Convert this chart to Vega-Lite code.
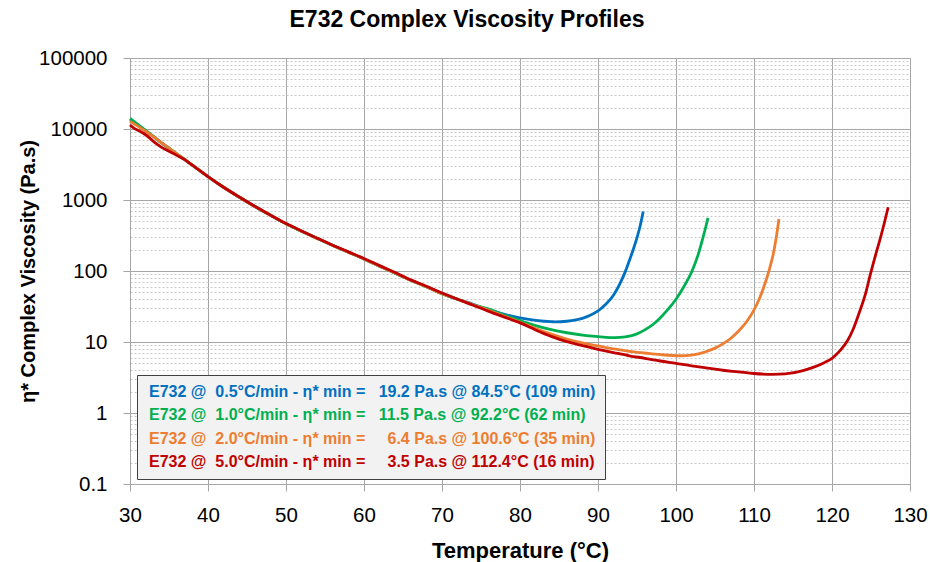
{
  "$schema": "https://vega.github.io/schema/vega-lite/v6.json",
  "width": 780,
  "height": 426,
  "autosize": {"type": "none"},
  "padding": {"left": 130, "top": 58, "right": 20, "bottom": 78},
  "background": "white",
  "config": {"view": {"stroke": null}},
  "title": {"text": "E732 Complex Viscosity Profiles", "font": "Liberation Sans", "fontSize": 23, "fontWeight": "bold", "color": "#000000", "anchor": "middle", "frame": "group", "dx": -53, "dy": 30, "baseline": "alphabetic", "offset": 28},
  "data": {"values": [
    {"s":"0.5","T":30,"v":13500},{"s":"0.5","T":31,"v":11400},{"s":"0.5","T":32,"v":9500},{"s":"0.5","T":33,"v":7850},
    {"s":"0.5","T":34,"v":6450},{"s":"0.5","T":35,"v":5370},{"s":"0.5","T":36,"v":4470},{"s":"0.5","T":37,"v":3720},{"s":"0.5","T":38,"v":3090},{"s":"0.5","T":39,"v":2570},{"s":"0.5","T":40,"v":2140},{"s":"0.5","T":42,"v":1510},{"s":"0.5","T":44,"v":1100},{"s":"0.5","T":46,"v":810},{"s":"0.5","T":48,"v":610},{"s":"0.5","T":50,"v":462},{"s":"0.5","T":52,"v":363},{"s":"0.5","T":54,"v":288},{"s":"0.5","T":56,"v":229},{"s":"0.5","T":58,"v":184},{"s":"0.5","T":60,"v":148},{"s":"0.5","T":62,"v":117},{"s":"0.5","T":64,"v":93},{"s":"0.5","T":66,"v":74},{"s":"0.5","T":68,"v":60},{"s":"0.5","T":70,"v":48},{"s":"0.5","T":72,"v":40},{"s":"0.5","T":74,"v":34},
    {"s":"0.5","T":76,"v":28.5},{"s":"0.5","T":78,"v":24.5},{"s":"0.5","T":80,"v":21.8},{"s":"0.5","T":82,"v":20.2},{"s":"0.5","T":84,"v":19.3},{"s":"0.5","T":84.5,"v":19.2},{"s":"0.5","T":86,"v":19.6},{"s":"0.5","T":88,"v":21.5},{"s":"0.5","T":89,"v":23.8},{"s":"0.5","T":90,"v":27.5},{"s":"0.5","T":91,"v":34},{"s":"0.5","T":92,"v":46},{"s":"0.5","T":92.8,"v":66},{"s":"0.5","T":93.5,"v":98},{"s":"0.5","T":94,"v":138},{"s":"0.5","T":94.5,"v":198},{"s":"0.5","T":95,"v":295},{"s":"0.5","T":95.4,"v":430},{"s":"0.5","T":95.8,"v":690},
    {"s":"1.0","T":30,"v":14100},{"s":"1.0","T":31,"v":11600},{"s":"1.0","T":32,"v":9550},{"s":"1.0","T":33,"v":7850},
    {"s":"1.0","T":34,"v":6450},{"s":"1.0","T":35,"v":5370},{"s":"1.0","T":36,"v":4470},{"s":"1.0","T":37,"v":3720},{"s":"1.0","T":38,"v":3090},{"s":"1.0","T":39,"v":2570},{"s":"1.0","T":40,"v":2140},{"s":"1.0","T":42,"v":1510},{"s":"1.0","T":44,"v":1100},{"s":"1.0","T":46,"v":810},{"s":"1.0","T":48,"v":610},{"s":"1.0","T":50,"v":462},{"s":"1.0","T":52,"v":363},{"s":"1.0","T":54,"v":288},{"s":"1.0","T":56,"v":229},{"s":"1.0","T":58,"v":184},{"s":"1.0","T":60,"v":148},{"s":"1.0","T":62,"v":117},{"s":"1.0","T":64,"v":93},{"s":"1.0","T":66,"v":74},{"s":"1.0","T":68,"v":60},{"s":"1.0","T":70,"v":48},{"s":"1.0","T":72,"v":40},{"s":"1.0","T":74,"v":33.5},
    {"s":"1.0","T":76,"v":29},{"s":"1.0","T":78,"v":23.8},{"s":"1.0","T":80,"v":20},{"s":"1.0","T":82,"v":17},{"s":"1.0","T":84,"v":14.9},{"s":"1.0","T":86,"v":13.5},{"s":"1.0","T":88,"v":12.5},{"s":"1.0","T":90,"v":11.9},{"s":"1.0","T":91,"v":11.6},{"s":"1.0","T":92.2,"v":11.5},{"s":"1.0","T":93.5,"v":11.8},{"s":"1.0","T":95,"v":13},{"s":"1.0","T":96,"v":14.8},{"s":"1.0","T":97,"v":17.5},{"s":"1.0","T":98,"v":22},{"s":"1.0","T":99,"v":29},{"s":"1.0","T":100,"v":40},{"s":"1.0","T":101,"v":60},{"s":"1.0","T":102,"v":97},{"s":"1.0","T":102.8,"v":165},{"s":"1.0","T":103.4,"v":280},{"s":"1.0","T":103.8,"v":410},{"s":"1.0","T":104.1,"v":560},
    {"s":"2.0","T":30,"v":12800},{"s":"2.0","T":31,"v":11000},{"s":"2.0","T":32,"v":9300},{"s":"2.0","T":33,"v":7800},
    {"s":"2.0","T":34,"v":6450},{"s":"2.0","T":35,"v":5370},{"s":"2.0","T":36,"v":4470},{"s":"2.0","T":37,"v":3720},{"s":"2.0","T":38,"v":3090},{"s":"2.0","T":39,"v":2570},{"s":"2.0","T":40,"v":2140},{"s":"2.0","T":42,"v":1510},{"s":"2.0","T":44,"v":1100},{"s":"2.0","T":46,"v":810},{"s":"2.0","T":48,"v":610},{"s":"2.0","T":50,"v":462},{"s":"2.0","T":52,"v":363},{"s":"2.0","T":54,"v":288},{"s":"2.0","T":56,"v":229},{"s":"2.0","T":58,"v":184},{"s":"2.0","T":60,"v":148},{"s":"2.0","T":62,"v":117},{"s":"2.0","T":64,"v":93},{"s":"2.0","T":66,"v":74},{"s":"2.0","T":68,"v":60},{"s":"2.0","T":70,"v":48},{"s":"2.0","T":72,"v":40},{"s":"2.0","T":74,"v":33.5},
    {"s":"2.0","T":76,"v":28},{"s":"2.0","T":78,"v":23},{"s":"2.0","T":80,"v":19},{"s":"2.0","T":82,"v":15.5},{"s":"2.0","T":84,"v":12.9},{"s":"2.0","T":86,"v":11},{"s":"2.0","T":88,"v":9.7},{"s":"2.0","T":90,"v":8.8},{"s":"2.0","T":92,"v":8},{"s":"2.0","T":94,"v":7.4},{"s":"2.0","T":96,"v":7},{"s":"2.0","T":98,"v":6.65},{"s":"2.0","T":100.6,"v":6.4},{"s":"2.0","T":102,"v":6.55},{"s":"2.0","T":103,"v":6.85},{"s":"2.0","T":104,"v":7.4},{"s":"2.0","T":105,"v":8.2},{"s":"2.0","T":106,"v":9.4},{"s":"2.0","T":107,"v":11.2},{"s":"2.0","T":108,"v":14.2},{"s":"2.0","T":109,"v":19},{"s":"2.0","T":109.9,"v":27},{"s":"2.0","T":110.7,"v":41},{"s":"2.0","T":111.4,"v":66},{"s":"2.0","T":112,"v":108},{"s":"2.0","T":112.5,"v":180},{"s":"2.0","T":112.9,"v":320},{"s":"2.0","T":113.2,"v":540},
    {"s":"5.0","T":30,"v":11400},{"s":"5.0","T":30.5,"v":10300},{"s":"5.0","T":31,"v":9600},{"s":"5.0","T":31.5,"v":9000},{"s":"5.0","T":32,"v":8300},{"s":"5.0","T":32.5,"v":7500},{"s":"5.0","T":33,"v":6700},{"s":"5.0","T":33.5,"v":6050},{"s":"5.0","T":34,"v":5550},{"s":"5.0","T":35,"v":4850},{"s":"5.0","T":36,"v":4250},
    {"s":"5.0","T":37,"v":3700},{"s":"5.0","T":38,"v":3090},{"s":"5.0","T":39,"v":2570},{"s":"5.0","T":40,"v":2140},{"s":"5.0","T":42,"v":1510},{"s":"5.0","T":44,"v":1100},{"s":"5.0","T":46,"v":815},{"s":"5.0","T":48,"v":615},{"s":"5.0","T":50,"v":465},{"s":"5.0","T":52,"v":366},{"s":"5.0","T":54,"v":290},{"s":"5.0","T":56,"v":231},{"s":"5.0","T":58,"v":186},{"s":"5.0","T":60,"v":150},{"s":"5.0","T":62,"v":119},{"s":"5.0","T":64,"v":95},{"s":"5.0","T":66,"v":75},{"s":"5.0","T":68,"v":61},{"s":"5.0","T":70,"v":49},{"s":"5.0","T":72,"v":40},{"s":"5.0","T":74,"v":33},
    {"s":"5.0","T":76,"v":27},{"s":"5.0","T":78,"v":22.4},{"s":"5.0","T":80,"v":18.6},{"s":"5.0","T":82,"v":14.8},{"s":"5.0","T":84,"v":12},{"s":"5.0","T":86,"v":10.1},{"s":"5.0","T":88,"v":8.9},{"s":"5.0","T":90,"v":7.9},{"s":"5.0","T":92,"v":7.1},{"s":"5.0","T":94,"v":6.4},{"s":"5.0","T":96,"v":5.9},{"s":"5.0","T":98,"v":5.4},{"s":"5.0","T":100,"v":5},{"s":"5.0","T":102,"v":4.6},{"s":"5.0","T":104,"v":4.3},{"s":"5.0","T":106,"v":4},{"s":"5.0","T":108,"v":3.8},{"s":"5.0","T":110,"v":3.6},{"s":"5.0","T":112.4,"v":3.5},{"s":"5.0","T":114,"v":3.55},{"s":"5.0","T":116.3,"v":3.95},{"s":"5.0","T":117.5,"v":4.35},{"s":"5.0","T":119,"v":5.1},{"s":"5.0","T":120,"v":5.9},{"s":"5.0","T":121,"v":7.5},{"s":"5.0","T":122,"v":10.5},{"s":"5.0","T":122.7,"v":15},{"s":"5.0","T":123.5,"v":26},{"s":"5.0","T":124.3,"v":48},{"s":"5.0","T":124.9,"v":88},{"s":"5.0","T":125.6,"v":170},{"s":"5.0","T":126.2,"v":290},{"s":"5.0","T":126.7,"v":470},{"s":"5.0","T":127.2,"v":790}
  ]},
  "resolve": {"axis": {"y": "independent"}},
  "layer": [
    {
      "mark": {"type": "line", "opacity": 0},
      "encoding": {
        "x": {"field": "T", "type": "quantitative", "scale": {"domain": [30, 130], "nice": false, "zero": false},
          "axis": {"values": [30,40,50,60,70,80,90,100,110,120,130], "grid": true, "gridColor": "#a6a6a6", "domainColor": "#a6a6a6", "tickColor": "#a6a6a6", "tickSize": 7, "labelFlush": false, "labelFont": "Liberation Sans", "labelFontSize": 20.5, "labelColor": "#000000", "labelPadding": 14, "title": "Temperature (°C)", "titleFont": "Liberation Sans", "titleFontSize": 22, "titleFontWeight": "bold", "titleColor": "#000000", "titleX": 390, "titleY": 73, "titleBaseline": "alphabetic", "titleAlign": "center"}},
        "y": {"field": "v", "type": "quantitative", "scale": {"type": "log", "domain": [0.1, 100000], "nice": false}, "axis": {"orient": "left", "values": [0.2,0.3,0.4,0.5,0.6,0.7,0.8,0.9,2,3,4,5,6,7,8,9,20,30,40,50,60,70,80,90,200,300,400,500,600,700,800,900,2000,3000,4000,5000,6000,7000,8000,9000,20000,30000,40000,50000,60000,70000,80000,90000], "grid": true, "gridColor": "#c8c8c8", "gridDash": [2, 2], "gridWidth": 1, "labels": false, "ticks": false, "domain": false, "title": null}}
      }
    },
    {
      "mark": {"type": "line", "strokeWidth": 2.8, "interpolate": "monotone"},
      "encoding": {
        "x": {"field": "T", "type": "quantitative", "scale": {"domain": [30, 130], "nice": false, "zero": false},
          "axis": {"values": [30,40,50,60,70,80,90,100,110,120,130], "grid": true, "gridColor": "#a6a6a6", "domainColor": "#a6a6a6", "tickColor": "#a6a6a6", "tickSize": 7, "labelFlush": false, "labelFont": "Liberation Sans", "labelFontSize": 20.5, "labelColor": "#000000", "labelPadding": 14, "title": "Temperature (°C)", "titleFont": "Liberation Sans", "titleFontSize": 22, "titleFontWeight": "bold", "titleColor": "#000000", "titleX": 390, "titleY": 73, "titleBaseline": "alphabetic", "titleAlign": "center"}},
        "y": {"field": "v", "type": "quantitative", "scale": {"type": "log", "domain": [0.1, 100000], "nice": false},
          "axis": {"orient": "left", "values": [0.1,1,10,100,1000,10000,100000], "format": "~g", "grid": true, "gridColor": "#a6a6a6", "domainColor": "#a6a6a6", "tickColor": "#a6a6a6", "tickSize": 7, "labelFont": "Liberation Sans", "labelFontSize": 20.5, "labelColor": "#000000", "labelPadding": 16, "title": "η* Complex Viscosity (Pa.s)", "titleFont": "Liberation Sans", "titleFontSize": 20, "titleFontWeight": "bold", "titleColor": "#000000", "titleX": -95.5, "titleY": 213, "titleAngle": -90, "titleBaseline": "alphabetic", "titleAlign": "center"}},
        "color": {"field": "s", "type": "nominal",
          "scale": {"domain": ["0.5", "1.0", "2.0", "5.0"], "range": ["#0070C0", "#00B050", "#ED7D31", "#C00000"]},
          "legend": {"orient": "none", "legendX": 7, "legendY": 317, "title": null, "direction": "vertical", "fillColor": "#f2f2f2", "strokeColor": "#404040", "padding": 9, "symbolSize": 0, "symbolOpacity": 0, "symbolStrokeWidth": 0, "labelOffset": -13, "labelFont": "Liberation Sans", "labelFontSize": 16, "labelFontWeight": "bold", "labelLimit": 0, "rowPadding": 7.3,
            "labelExpr": "datum.value == '0.5' ? 'E732 @\u00a0 0.5°C/min - η* min =\u00a0\u00a0 19.2 Pa.s @ 84.5°C (109 min)' : datum.value == '1.0' ? 'E732 @\u00a0 1.0°C/min - η* min =\u00a0\u00a0 11.5 Pa.s @ 92.2°C (62 min)' : datum.value == '2.0' ? 'E732 @\u00a0 2.0°C/min - η* min =\u00a0\u00a0\u00a0\u00a0 6.4 Pa.s @ 100.6°C (35 min)' : 'E732 @\u00a0 5.0°C/min - η* min =\u00a0\u00a0\u00a0\u00a0 3.5 Pa.s @ 112.4°C (16 min)'",
            "encode": {"labels": {"update": {"fill": {"scale": "color", "field": "value"}}}}}}
      }
    }
  ]
}
